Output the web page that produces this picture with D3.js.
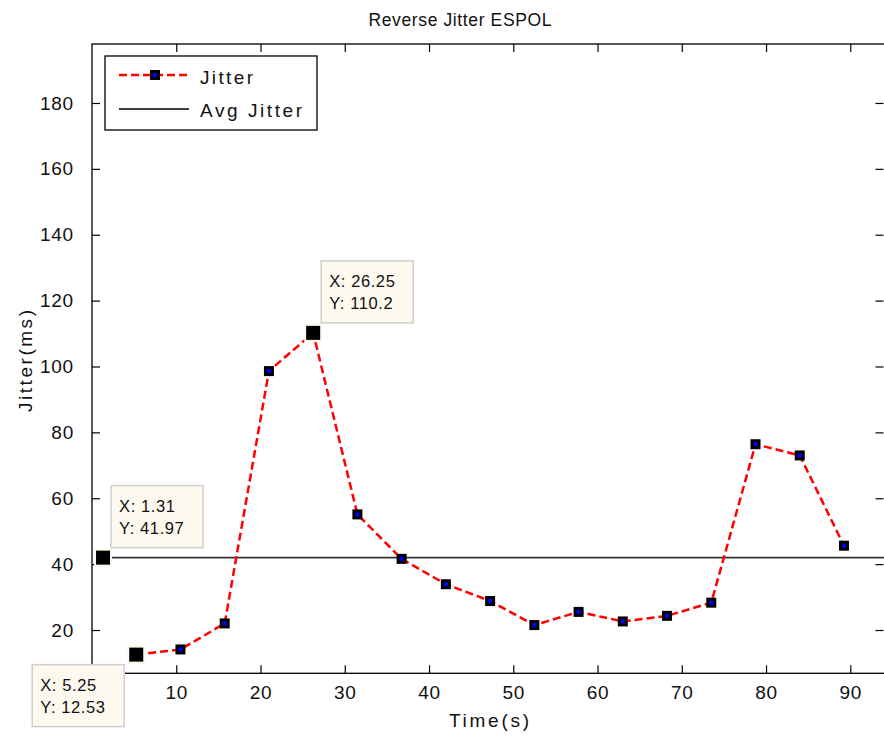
<!DOCTYPE html>
<html>
<head>
<meta charset="utf-8">
<script src="https://cdn.jsdelivr.net/npm/d3@7/dist/d3.min.js"></script>
<style>
  html, body { margin: 0; padding: 0; background: #fff; }
  svg { display: block; font-family: "Liberation Sans", Arial, sans-serif; }
</style>
</head>
<body>
<svg id="chart" width="884" height="737"></svg>
<script>
// ---- data ----
const times = [5.25, 10.5, 15.75, 21, 26.25, 31.5, 36.75, 42, 47.25, 52.5, 57.75, 63, 68.25, 73.5, 78.75, 84, 89.25];
const jitter = [12.53, 14.1, 22.0, 98.6, 110.2, 55.1, 41.6, 33.9, 28.8, 21.5, 25.5, 22.6, 24.3, 28.3, 76.4, 73.0, 45.6];
const avgJitter = 41.97;
const avgStartX = 1.31;
const xTicks = [10, 20, 30, 40, 50, 60, 70, 80, 90];
const yTicks = [20, 40, 60, 80, 100, 120, 140, 160, 180];
const tipX = [26.25, 1.31, 5.25];
const tipY = [110.2, 41.97, 12.53];
const legendLabels = ["Jitter", "Avg Jitter"];
const titleText = "Reverse Jitter ESPOL";
const xLabel = "Time(s)";
const yLabel = "Jitter(ms)";

// ---- layout ----
const L = 92, R = 884, T = 44, B = 673.3;
const svg = d3.select("#chart");
svg.append("rect").attr("width", 884).attr("height", 737).attr("fill", "#fff");

const x = d3.scaleLinear().domain([0, 94]).range([L, R]);
const y = d3.scaleLinear().domain([6.86, 197.9]).range([B, T]);

// axes (ticks inward, mirrored box)
const tickLen = 8;
const axB = svg.append("g").attr("transform", `translate(0,${B})`)
  .call(d3.axisBottom(x).tickValues(xTicks).tickSizeInner(-tickLen).tickSizeOuter(0).tickPadding(12).tickFormat(d3.format("d")));
const axT = svg.append("g").attr("transform", `translate(0,${T})`)
  .call(d3.axisTop(x).tickValues(xTicks).tickSizeInner(-tickLen).tickSizeOuter(0).tickFormat(""));
const axL = svg.append("g").attr("transform", `translate(${L},0)`)
  .call(d3.axisLeft(y).tickValues(yTicks).tickSizeInner(-tickLen).tickSizeOuter(0).tickPadding(18).tickFormat(d3.format("d")));
const axR = svg.append("g").attr("transform", `translate(${R - 0.5},0)`)
  .call(d3.axisRight(y).tickValues(yTicks).tickSizeInner(-tickLen).tickSizeOuter(0).tickFormat(""));
[axB, axT, axL, axR].forEach(g => {
  g.select(".domain").remove();
  g.selectAll(".tick line").attr("stroke", "#000").attr("stroke-width", 1.2);
  g.selectAll("text").attr("fill", "#111").attr("font-size", 19).attr("letter-spacing", 0.8)
    .attr("font-family", "Liberation Sans, Arial, sans-serif");
});
axB.selectAll("text").attr("dy", "0.71em");
// box
svg.append("rect").attr("x", L).attr("y", T).attr("width", R - L + 2).attr("height", B - T)
  .attr("fill", "none").attr("stroke", "#000").attr("stroke-width", 1.3);

// avg line
svg.append("line")
  .attr("x1", x(avgStartX)).attr("x2", x(94)).attr("y1", y(avgJitter)).attr("y2", y(avgJitter))
  .attr("stroke", "#333").attr("stroke-width", 1.6);

// jitter curve
const pts = times.map((t, i) => [t, jitter[i]]);
const line = d3.line().x(d => x(d[0])).y(d => y(d[1])).curve(d3.curveLinear);
svg.append("path").attr("d", line(pts)).attr("fill", "none")
  .attr("stroke", "#ff0000").attr("stroke-width", 2.5).attr("stroke-dasharray", "8,4");

// markers
svg.selectAll("rect.mk").data(pts.filter(d => !tipX.includes(d[0]))).join("rect")
  .attr("class", "mk")
  .attr("x", d => x(d[0]) - 3.5).attr("y", d => y(d[1]) - 3.5)
  .attr("width", 7).attr("height", 7)
  .attr("fill", "#0000ff").attr("stroke", "#000").attr("stroke-width", 3);

// data tips
const tipOffsets = [[8, -72], [8, -72], [-104, 10]];
tipX.forEach((tx, i) => {
  const px = x(tx), py = y(tipY[i]);
  svg.append("rect").attr("x", px - 9).attr("y", py - 9).attr("width", 18).attr("height", 18)
    .attr("fill", "#fdf8ec");
  svg.append("rect").attr("x", px - 7).attr("y", py - 7).attr("width", 14).attr("height", 14)
    .attr("fill", "#000");
  const bx = px + tipOffsets[i][0], by = py + tipOffsets[i][1];
  svg.append("rect").attr("x", bx).attr("y", by).attr("width", 92).attr("height", 62)
    .attr("fill", "#fdf9ee").attr("stroke", "#cfcfcf").attr("stroke-width", 1.5);
  const g = svg.append("g").attr("font-size", 16.5).attr("fill", "#111").attr("letter-spacing", 0.6);
  g.append("text").attr("x", bx + 8).attr("y", by + 26).text("X: " + tx);
  g.append("text").attr("x", bx + 8).attr("y", by + 48).text("Y: " + tipY[i]);
});

// legend
const lg = svg.append("g");
lg.append("rect").attr("x", 105).attr("y", 56).attr("width", 212).attr("height", 74)
  .attr("fill", "#fff").attr("stroke", "#000").attr("stroke-width", 1.3);
lg.append("line").attr("x1", 119).attr("x2", 189).attr("y1", 75).attr("y2", 75)
  .attr("stroke", "#ff0000").attr("stroke-width", 2.5).attr("stroke-dasharray", "8,4");
lg.append("rect").attr("x", 155 - 3.5).attr("y", 75 - 3.5).attr("width", 7).attr("height", 7)
  .attr("fill", "#0000ff").attr("stroke", "#000").attr("stroke-width", 3);
lg.append("line").attr("x1", 119).attr("x2", 189).attr("y1", 109).attr("y2", 109)
  .attr("stroke", "#000").attr("stroke-width", 1.3);
lg.append("text").attr("x", 200).attr("y", 84).attr("font-size", 19).attr("fill", "#111")
  .attr("textLength", 53).attr("lengthAdjust", "spacing").text(legendLabels[0]);
lg.append("text").attr("x", 200).attr("y", 117).attr("font-size", 19).attr("fill", "#111")
  .attr("textLength", 102).attr("lengthAdjust", "spacing").text(legendLabels[1]);

// title and axis labels
svg.append("text").attr("x", 460).attr("y", 26).attr("text-anchor", "middle")
  .attr("font-size", 17.5).attr("fill", "#111").attr("textLength", 183).attr("lengthAdjust", "spacing")
  .text(titleText);
svg.append("text").attr("x", 489).attr("y", 727).attr("text-anchor", "middle")
  .attr("font-size", 19).attr("fill", "#111").attr("textLength", 80).attr("lengthAdjust", "spacing")
  .text(xLabel);
svg.append("text").attr("transform", "translate(32,361) rotate(-90)").attr("text-anchor", "middle")
  .attr("font-size", 19).attr("fill", "#111").attr("textLength", 102).attr("lengthAdjust", "spacing")
  .text(yLabel);
</script>
</body>
</html>
